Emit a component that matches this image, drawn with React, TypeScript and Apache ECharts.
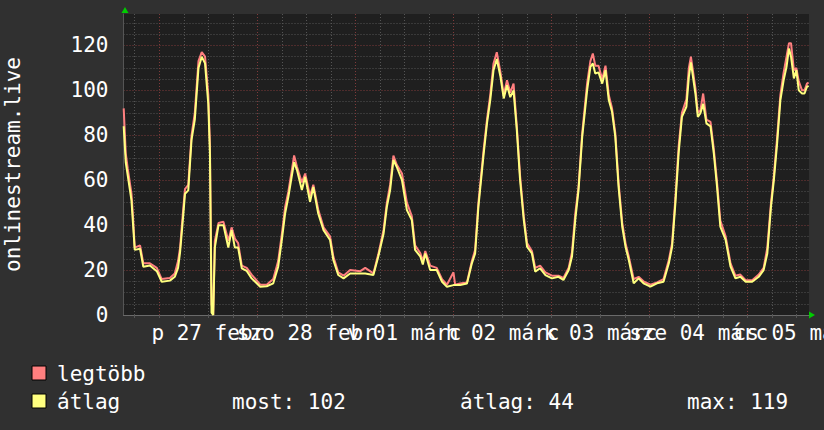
import React, { useEffect, useRef } from 'react';
import * as echarts from 'echarts';

// hours relative to 27 Feb 00:00
const hours = [
  -8.7, -8.2, -7.7, -6.8, -6.4, -6.0, -4.7, -3.9, -2.3, -0.6,
  0.6, 2.6, 3.8, 4.6, 5.1, 5.9, 6.3, 7.1, 7.9, 8.7,
  9.6, 10.4, 11.2, 12.0, 12.4, 12.8, 13.2, 13.6, 14.5, 15.7,
  16.9, 17.7, 18.5, 19.3, 20.2, 21.4, 22.6, 24.7, 26.3, 27.9,
  29.1, 30.0, 30.8, 31.6, 32.4, 33.0, 33.7, 34.9, 35.7, 36.9,
  37.7, 38.9, 40.2, 41.8, 42.6, 43.8, 45.1, 46.7, 49.2, 50.4,
  52.4, 53.6, 54.9, 55.7, 56.5, 57.3, 58.1, 59.4, 60.6, 61.8,
  62.6, 63.9, 64.5, 65.1, 66.3, 67.9, 69.2, 70.4, 72.0, 72.4,
  73.6, 75.3, 76.5, 77.3, 78.1, 79.4, 80.2, 81.0, 81.8, 82.6,
  83.5, 84.3, 85.1, 85.9, 86.7, 87.5, 88.3, 89.2, 90.0, 91.2,
  92.0, 93.2, 94.5, 96.1, 97.7, 98.9, 100.2, 101.0, 101.8, 102.6,
  103.5, 104.7, 105.5, 106.1, 106.7, 107.5, 108.4, 109.2, 110.0, 110.8,
  111.6, 112.4, 113.3, 114.1, 114.9, 116.1, 117.3, 118.5, 120.2, 121.8,
  123.4, 124.7, 125.5, 126.3, 127.1, 127.9, 129.0, 129.6, 130.1, 131.2,
  131.8, 132.4, 133.1, 133.9, 134.9, 135.7, 136.5, 137.3, 138.6, 139.8,
  141.0, 142.2, 143.5, 145.1, 146.7, 147.9, 148.8, 149.7, 150.4, 151.2,
  152.0, 152.8, 153.5, 154.1, 154.6, 155.3, 155.9, 156.5, 157.3, 157.9,
  158.5, 158.9,
];

const atlag = [
  84, 68, 62, 51, 40, 29, 29.5, 21.5, 22, 19.5,
  14.8, 15.3, 17, 21, 28, 45, 54, 55.5, 78, 87,
  110, 115, 112, 94, 72, 1, 0, 30, 40, 40,
  30, 37.8, 30, 30, 20.8, 19.6, 16.3, 12.6, 12.8, 14.1,
  21.5, 33.4, 45.2, 52.6, 61.5, 68, 64.5, 55.6, 61.5, 50.4,
  57, 45.2, 37.8, 33.4, 24.5, 17.8, 16.3, 18.5, 18.5, 18.5,
  17.8, 26, 36.3, 48.2, 55.6, 69, 66, 60, 46.7, 42.3,
  29, 26, 22.5, 27.4, 20, 20, 14.8, 12.6, 13.3, 13.3,
  13.3, 14, 23, 27.4, 48.2, 72, 85.3, 95.7, 109, 114,
  106, 96.4, 102.3, 97, 100, 82.3, 60, 42.3, 30.4, 27.4,
  19.3, 20.8, 17.8, 16.3, 17, 15.6, 20, 26, 42.3, 55.6,
  79.3, 100, 110.5, 112, 107.5, 108, 103, 109, 95.7, 90.5,
  79.3, 57, 39.3, 30.4, 24.5, 14.1, 16.3, 14.1, 12.6, 14.1,
  14.8, 23, 30.4, 49.7, 72, 88.2, 92.7, 106, 112.5, 98.6,
  88.2, 89.7, 94, 85.3, 84, 72, 57, 39.3, 33.4, 21.5,
  16.3, 17, 14.8, 14.8, 17, 20, 27.4, 48.2, 60, 76.4,
  95.7, 104.6, 110.5, 118.6, 115, 105.3, 109, 100, 98.6, 98.6,
  101.6, 102,
];

const legtobb = [
  92, 72, 65, 54, 43, 30, 31, 23, 23, 21,
  16, 16.5, 18.5, 24, 30, 48, 56, 58, 80, 90,
  113, 117, 115, 98, 76, 5, 0, 33, 41, 41.5,
  33, 39, 34, 32, 22, 21, 18, 13.5, 13.5, 16,
  24, 36, 48, 55, 64, 71, 66, 59, 63, 53,
  58, 47, 39, 35, 26, 19, 17.5, 20, 19.5, 21,
  18.5, 27, 38, 50, 58, 71, 67, 63, 50, 44,
  31, 27.5, 24, 28.5, 22, 21, 16, 13.5, 19, 13.5,
  14, 14.5, 24, 29, 50, 74, 87, 98, 112, 117,
  108, 98, 104.5, 99, 103, 84, 62, 44, 32, 28.5,
  21, 22, 19, 17.5, 17.5, 16.5, 21, 28, 45, 57,
  81, 103, 113, 116.4, 111, 111, 105, 111, 98, 92,
  81, 59, 41, 32, 26, 16, 17, 15, 13.5, 14.5,
  16, 24.5, 32, 52, 75, 90, 96, 110, 115, 101,
  90, 91, 98.6, 87, 86, 74, 59, 42, 35, 23,
  17.5, 18, 15.5, 15.5, 18, 21, 30, 50, 62, 79,
  98, 108, 115, 121, 121, 109, 110, 104, 100, 100,
  103, 103.5,
];

const seriesNames = ['legtöbb', 'átlag'];
const seriesColors = ['#ff7f7f', '#ffff7f'];

const X_MIN = -8.75;
const X_MAX = 159;
const Y_MIN = 0;
const Y_MAX = 134;

const dayNoons = [12, 36, 60, 84, 108, 132, 156];
const dayLabels = ['p 27 febr', 'szo 28 febr', 'v 01 márc', 'h 02 márc', 'k 03 márc', 'sze 04 márc', 'cs 05 márc'];
// grid every 6 hours (first one at -6h); every 4th one is a midnight
const xGridLines = [
  -6, 0, 6, 12, 18, 24, 30, 36, 42, 48, 54, 60, 66, 72, 78, 84, 90,
  96, 102, 108, 114, 120, 126, 132, 138, 144, 150, 156,
];
const yMajor = [0, 20, 40, 60, 80, 100, 120];
// grid every 5; every 4th one is a major line
const yGridLines = [
  0, 5, 10, 15, 20, 25, 30, 35, 40, 45, 50, 55, 60, 65,
  70, 75, 80, 85, 90, 95, 100, 105, 110, 115, 120, 125, 130,
];

const statLabels = ['most:', 'átlag:', 'max:'];
const statValues = [102, 44, 119];

const FONT = '"DejaVu Sans Mono", monospace';
const FS = 21;

export default function App() {
  const ref = useRef<HTMLDivElement>(null);

  useEffect(() => {
    if (!ref.current) return;
    const chart = echarts.init(ref.current, null, { renderer: 'svg' });

    const minorGrid = '#555555';
    const majorGrid = '#7e3a3a';

    const gfx: any[] = [];
    seriesNames.forEach((name, i) => {
      gfx.push({
        type: 'rect',
        shape: { x: 32, y: 366 + i * 28, width: 14, height: 14 },
        style: { fill: seriesColors[i], stroke: '#000', lineWidth: 1 },
      });
      gfx.push({
        type: 'text',
        x: 57,
        y: 374 + i * 28,
        style: { text: name, fill: '#fff', font: `${FS}px ${FONT}`, verticalAlign: 'middle' },
      });
    });
    const statX = [232, 460, 687];
    statLabels.forEach((lab, i) => {
      gfx.push({
        type: 'text',
        x: statX[i],
        y: 402,
        style: { text: `${lab} ${statValues[i]}`, fill: '#fff', font: `${FS}px ${FONT}`, verticalAlign: 'middle' },
      });
    });
    // axis arrows
    gfx.push({
      type: 'polygon',
      shape: { points: [[121.5, 13], [128.5, 13], [125, 7]] },
      style: { fill: '#00cc00' },
    });
    gfx.push({
      type: 'polygon',
      shape: { points: [[809, 311.5], [809, 318.5], [815, 315]] },
      style: { fill: '#00cc00' },
    });

    // labels split over two overlapping bottom axes so that the library keeps all of them
    const evenNoons = dayNoons.filter((_, i) => i % 2 === 0);
    const oddNoons = dayNoons.filter((_, i) => i % 2 === 1);
    const labelFormatter = (v: number) => {
      const idx = dayNoons.indexOf(Math.round(v));
      return idx >= 0 ? dayLabels[idx] : '';
    };
    const labelStyle = {
      show: true,
      showMinLabel: true,
      showMaxLabel: true,
      formatter: labelFormatter,
      color: '#ffffff',
      fontSize: FS,
      fontFamily: FONT,
      margin: 7,
      hideOverlap: false,
    };

    const option: any = {
      animation: false,
      backgroundColor: '#303030',
      textStyle: { fontFamily: FONT },
      grid: {
        left: 123.5,
        top: 14,
        right: 15,
        bottom: 115,
        show: true,
        backgroundColor: '#1f1f1f',
        borderWidth: 0,
        containLabel: false,
        outerBoundsMode: 'none',
      },
      xAxis: [
        {
          type: 'value',
          min: X_MIN,
          max: X_MAX,
          position: 'bottom',
          axisLine: { show: true, onZero: false, lineStyle: { color: '#6a6a6a', width: 1 } },
          axisTick: { show: true, customValues: xGridLines, length: 3, lineStyle: { color: minorGrid } },
          axisLabel: { ...labelStyle, customValues: evenNoons },
          splitLine: {
            show: true,
            lineStyle: { color: [minorGrid, majorGrid, minorGrid, minorGrid], type: [1, 2], width: 1 },
          },
        },
        {
          type: 'value',
          min: X_MIN,
          max: X_MAX,
          position: 'bottom',
          offset: 0,
          axisLine: { show: false, onZero: false },
          axisTick: { show: false },
          axisLabel: { ...labelStyle, customValues: oddNoons },
          splitLine: { show: false },
        },
      ],
      yAxis: {
        type: 'value',
        min: Y_MIN,
        max: Y_MAX,
        name: 'onlinestream.live',
        nameLocation: 'middle',
        nameGap: 100,
        nameTextStyle: { color: '#ffffff', fontSize: FS, fontFamily: FONT },
        axisLine: { show: true, onZero: false, lineStyle: { color: '#555555' } },
        axisTick: { show: false, customValues: yGridLines },
        axisLabel: {
          customValues: yMajor,
          showMinLabel: true,
          showMaxLabel: true,
          color: '#ffffff',
          fontSize: FS,
          fontFamily: FONT,
          margin: 15,
        },
        splitLine: {
          show: true,
          lineStyle: { color: [majorGrid, minorGrid, minorGrid, minorGrid], type: [1, 2], width: 1 },
        },
      },
      series: [legtobb, atlag].map((vals, i) => ({
        name: seriesNames[i],
        type: 'line',
        xAxisIndex: 0,
        yAxisIndex: 0,
        data: hours.map((h, j) => [h, vals[j]]),
        symbol: 'none',
        lineStyle: { color: seriesColors[i], width: 2 },
        itemStyle: { color: seriesColors[i] },
        z: 3 + i,
      })),
      graphic: gfx,
    };

    chart.setOption(option);
    return () => chart.dispose();
  }, []);

  return <div ref={ref} style={{ width: 824, height: 430, position: 'absolute', left: 0, top: 0 }} />;
}
